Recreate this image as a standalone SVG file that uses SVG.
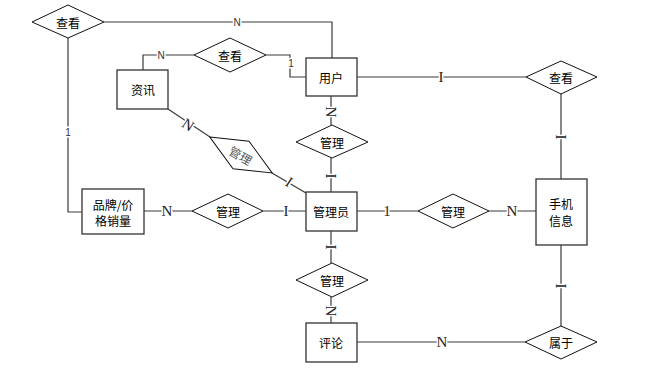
<svg xmlns="http://www.w3.org/2000/svg" width="659" height="375" viewBox="0 0 659 375">
<style>
.ent{fill:#fff;stroke:#333;stroke-width:1.3}
.rel{fill:#fff;stroke:#111;stroke-width:1}
.ln{fill:none;stroke:#3a3a3a;stroke-width:1.2}
.t{font-family:"Noto Sans CJK SC","Liberation Sans",sans-serif;font-size:12px;fill:#000;text-anchor:middle;dominant-baseline:central}
.ls{font-family:"Liberation Sans",sans-serif;font-size:10px;fill:#333;text-anchor:middle;dominant-baseline:central;stroke:#fff;stroke-width:3;paint-order:stroke}
.lr{font-family:"Liberation Serif",serif;font-size:15px;fill:#222;text-anchor:middle;dominant-baseline:central;stroke:#fff;stroke-width:3;paint-order:stroke}
</style>
<rect width="659" height="375" fill="#fff"/>
<g id="connectors">
<polyline class="ln" points="104,22 332,22 332,58"/>
<polyline class="ln" points="143,70 143,55 194,55"/>
<polyline class="ln" points="266,55 290,55 290,77 306,77"/>
<polyline class="ln" points="68,38 68,212 82,212"/>
<line class="ln" x1="168" y1="109" x2="210" y2="137"/>
<line class="ln" x1="272" y1="173" x2="306" y2="193"/>
<line class="ln" x1="331" y1="96" x2="331" y2="125"/>
<line class="ln" x1="331" y1="158" x2="331" y2="192"/>
<line class="ln" x1="144" y1="211" x2="192" y2="211"/>
<line class="ln" x1="263" y1="211" x2="306" y2="211"/>
<line class="ln" x1="357" y1="211" x2="418" y2="211"/>
<line class="ln" x1="489" y1="211" x2="536" y2="211"/>
<line class="ln" x1="331" y1="231" x2="331" y2="263"/>
<line class="ln" x1="331" y1="297" x2="331" y2="323"/>
<line class="ln" x1="357" y1="77" x2="526" y2="77"/>
<line class="ln" x1="561" y1="94" x2="561" y2="179"/>
<line class="ln" x1="561" y1="245" x2="561" y2="326"/>
<line class="ln" x1="357" y1="342" x2="525" y2="342"/>
<text class="ls" x="237" y="22">N</text>
<text class="ls" x="161" y="55">N</text>
<text class="ls" x="291" y="63">1</text>
<text class="ls" x="68" y="132">1</text>
<text class="lr" x="188" y="125" transform="rotate(34 188 125)">N</text>
<text class="lr" x="289" y="182" transform="rotate(34 289 182)">I</text>
<text class="lr" x="331" y="112" transform="rotate(90 331 112)">N</text>
<text class="lr" x="331" y="176" transform="rotate(90 331 176)">I</text>
<text class="lr" x="167" y="211">N</text>
<text class="lr" x="286" y="211">I</text>
<text class="lr" x="387" y="211">1</text>
<text class="lr" x="512" y="211">N</text>
<text class="lr" x="331" y="247" transform="rotate(90 331 247)">I</text>
<text class="lr" x="331" y="311" transform="rotate(90 331 311)">N</text>
<text class="lr" x="441" y="77">I</text>
<text class="lr" x="561" y="137" transform="rotate(90 561 137)">I</text>
<text class="lr" x="561" y="286" transform="rotate(90 561 286)">I</text>
<text class="lr" x="442" y="342">N</text>
</g>
<g id="rel-view-top"><polygon class="rel" points="32,22 68,5 104,22 68,38"/><text class="t" x="68" y="22">查看</text></g>
<g id="rel-view-news"><polygon class="rel" points="194,55 230,38 266,55 230,72"/><text class="t" x="230" y="55">查看</text></g>
<g id="rel-view-right"><polygon class="rel" points="526,77 561,61 597,77 561,94"/><text class="t" x="561" y="77">查看</text></g>
<g id="rel-manage-news" transform="rotate(30 241 155)"><polygon class="rel" points="205,155 241,139 277,155 241,171"/><text class="t" x="241" y="155" style="fill:#555">管理</text></g>
<g id="rel-manage-user"><polygon class="rel" points="296,142 332,125 368,142 332,158"/><text class="t" x="332" y="142">管理</text></g>
<g id="rel-manage-brand"><polygon class="rel" points="192,211 228,194 263,211 228,228"/><text class="t" x="228" y="211">管理</text></g>
<g id="rel-manage-phone"><polygon class="rel" points="418,211 453,194 489,211 453,228"/><text class="t" x="453" y="211">管理</text></g>
<g id="rel-manage-comment"><polygon class="rel" points="296,280 332,263 368,280 332,297"/><text class="t" x="332" y="280">管理</text></g>
<g id="rel-belong"><polygon class="rel" points="525,342 561,326 597,342 561,359"/><text class="t" x="561" y="342">属于</text></g>
<g id="ent-user"><rect class="ent" x="306" y="58" width="51" height="38"/><text class="t" x="331" y="77">用户</text></g>
<g id="ent-news"><rect class="ent" x="117" y="70" width="51" height="39"/><text class="t" x="143" y="89">资讯</text></g>
<g id="ent-brand"><rect class="ent" x="82" y="189" width="62" height="45"/><text class="t" x="113" y="204">品牌/价</text><text class="t" x="113" y="220">格销量</text></g>
<g id="ent-admin"><rect class="ent" x="306" y="192" width="51" height="39"/><text class="t" x="331" y="211">管理员</text></g>
<g id="ent-phone"><rect class="ent" x="536" y="179" width="51" height="66"/><text class="t" x="561" y="203">手机</text><text class="t" x="561" y="220">信息</text></g>
<g id="ent-comment"><rect class="ent" x="306" y="323" width="51" height="39"/><text class="t" x="331" y="342">评论</text></g>
</svg>
